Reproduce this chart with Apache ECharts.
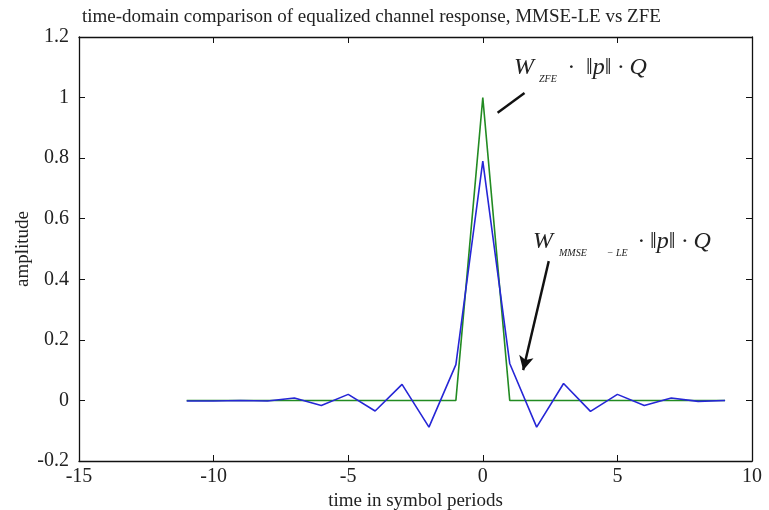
<!DOCTYPE html>
<html>
<head>
<meta charset="utf-8">
<script src="https://cdn.jsdelivr.net/npm/echarts@6/dist/echarts.min.js"></script>
<style>html,body{margin:0;padding:0;background:#fff}#c{width:769px;height:510px}</style>
</head>
<body>
<div id="c"></div>
<script>
// ---- data ----
var timeSymbols = [-11,-10,-9,-8,-7,-6,-5,-4,-3,-2,-1,0,1,2,3,4,5,6,7,8,9];
var mmseLE = [-0.002,-0.002,0,-0.002,0.008,-0.017,0.02,-0.035,0.053,-0.088,0.118,0.79,0.122,-0.088,0.056,-0.036,0.02,-0.017,0.008,-0.003,0];
var zfe    = [0,0,0,0,0,0,0,0,0,0,0,1,0,0,0,0,0,0,0,0,0];
var xTicks = [-15,-10,-5,0,5,10];
var yTicks = [-0.2,0,0.2,0.4,0.6,0.8,1,1.2];
var titleText = 'time-domain comparison of equalized channel response, MMSE-LE vs ZFE';
var xName = 'time in symbol periods';
var yName = 'amplitude';
// annotation pointers in data coords
var zfePointer = [[0.55,0.95],[1.55,1.015]];
var mmsePointer = [[2.45,0.46],[1.5,0.1]];

var serif = 'Liberation Serif';
var chart = echarts.init(document.getElementById('c'));
function pair(a,b){return a.map(function(v,i){return [v,b[i]];});}
var axisLineStyle = {onZero:false,lineStyle:{color:'#111',width:1.3}};
var baseX = {type:'value',min:xTicks[0],max:xTicks[xTicks.length-1],interval:5,splitLine:{show:false},
  axisLine:axisLineStyle,axisTick:{inside:true,length:6,lineStyle:{color:'#111'}}};
var baseY = {type:'value',min:yTicks[0],max:yTicks[yTicks.length-1],interval:0.2,splitLine:{show:false},
  axisLine:axisLineStyle,axisTick:{inside:true,length:6,lineStyle:{color:'#111'}}};
chart.setOption({
  animation:false,
  backgroundColor:'#fff',
  title:{text:titleText,left:77,top:3,textStyle:{fontFamily:serif,fontSize:19,fontWeight:'normal',color:'#222'}},
  grid:{left:79,right:17,top:37,bottom:49,containLabel:false,outerBoundsMode:'none'},
  xAxis:[
    Object.assign({},baseX,{position:'bottom',name:xName,nameLocation:'middle',nameGap:31,
      nameTextStyle:{fontFamily:serif,fontSize:19,color:'#222'},
      axisLabel:{fontFamily:serif,fontSize:20,color:'#222',margin:6}}),
    Object.assign({},baseX,{position:'top',axisLabel:{show:false}})
  ],
  yAxis:[
    Object.assign({},baseY,{position:'left',name:yName,nameLocation:'middle',nameGap:46,
      nameMoveOverlap:false,
      nameTextStyle:{fontFamily:serif,fontSize:19,color:'#222'},
      axisLabel:{fontFamily:serif,fontSize:20,color:'#222',margin:10,
        formatter:function(v){return String(Math.round(v*10)/10);}}}),
    Object.assign({},baseY,{position:'right',axisLabel:{show:false}})
  ],
  series:[
    {type:'line',data:pair(timeSymbols,zfe),symbol:'none',lineStyle:{color:'#228b22',width:1.6},z:2},
    {type:'line',data:pair(timeSymbols,mmseLE),symbol:'none',lineStyle:{color:'#2626d6',width:1.6},z:3,
      markLine:{silent:true,symbolSize:[0,0],label:{show:false},
        data:[
          [{coord:zfePointer[0],symbol:'none'},{coord:zfePointer[1],symbol:'none'}],
          [{coord:mmsePointer[0],symbol:'none'},{coord:mmsePointer[1],symbol:'arrow',symbolSize:[11,14]}]
        ],
        lineStyle:{color:'#111',width:2.4,type:'solid'}}}
  ],
  graphic:[
    {type:'text',left:514,top:56,style:{text:'W',font:'italic 24px "Liberation Serif"',fill:'#222'}},
    {type:'text',left:539,top:74,style:{text:'ZFE',font:'italic 10px "Liberation Serif"',fill:'#222'}},
    {type:'text',left:568,top:56,style:{text:'·  \u2016p\u2016 · Q',font:'italic 24px "Liberation Serif"',fill:'#222'}},
    {type:'text',left:533,top:230,style:{text:'W',font:'italic 24px "Liberation Serif"',fill:'#222'}},
    {type:'text',left:559,top:248,style:{text:'MMSE        \u2212 LE',font:'italic 10px "Liberation Serif"',fill:'#222'}},
    {type:'text',left:638,top:230,style:{text:'· \u2016p\u2016 · Q',font:'italic 24px "Liberation Serif"',fill:'#222'}}
  ]
});
</script>
</body>
</html>
